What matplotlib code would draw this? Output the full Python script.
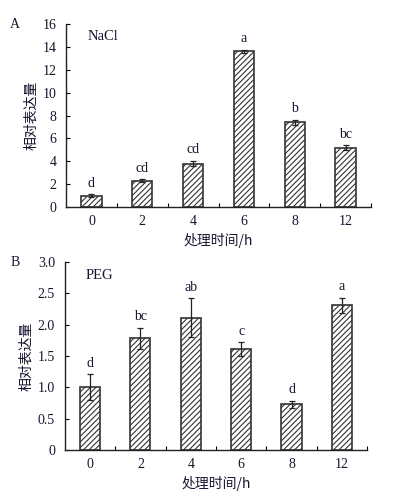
import matplotlib
matplotlib.use("Agg")
import matplotlib.pyplot as plt
import numpy as np

plt.rcParams['font.family'] = ['Liberation Serif', 'Noto Sans CJK SC', 'DejaVu Sans']
plt.rcParams['hatch.linewidth'] = 0.8
plt.rcParams['hatch.color'] = '#222222'

categories = ['0', '2', '4', '6', '8', '12']
nacl_vals = [1.0, 2.3, 3.8, 13.6, 7.4, 5.2]
nacl_err = [0.12, 0.12, 0.22, 0.15, 0.22, 0.18]
nacl_letters = ['d', 'cd', 'cd', 'a', 'b', 'bc']
peg_vals = [1.0, 1.78, 2.11, 1.61, 0.73, 2.31]
peg_err = [0.21, 0.17, 0.31, 0.11, 0.055, 0.12]
peg_letters = ['d', 'bc', 'ab', 'c', 'd', 'a']

txt_color = '#15152e'

fig = plt.figure(figsize=(3.93, 4.95), dpi=100)
axA = fig.add_axes([0.168, 0.5818, 0.776, 0.3697])
axB = fig.add_axes([0.165, 0.0909, 0.769, 0.3798])

def draw(ax, vals, errs, letters, ymax, yticks, yticklabels, title, panel, letter_off):
    x = np.arange(len(categories)) + 0.5
    ax.bar(x, vals, width=0.4, color='white', edgecolor='#333333', linewidth=1.2,
           hatch='//////', zorder=2)
    ax.errorbar(x, vals, yerr=errs, fmt='none', ecolor='#222222', elinewidth=0.9,
                capsize=2.5, capthick=0.9, zorder=3)
    for xi, v, e, l in zip(x, vals, errs, letters):
        ax.text(xi, v + e + letter_off, l, ha='center', va='bottom', fontsize=10,
                color=txt_color)
    ax.set_xlim(0, len(categories))
    ax.set_ylim(0, ymax)
    ax.set_yticks(yticks)
    ax.set_yticklabels(yticklabels, fontsize=10, color=txt_color)
    ax.set_xticks(np.arange(1, len(categories) + 1))
    ax.set_xticklabels([])
    ax.set_xticks(x, minor=True)
    ax.set_xticklabels(categories, minor=True, fontsize=10, color=txt_color)
    ax.tick_params(axis='x', which='minor', length=0, pad=6)
    ax.tick_params(axis='x', which='major', direction='in', length=3, width=0.8)
    ax.tick_params(axis='y', direction='in', length=3, width=0.8, pad=7)
    for s in ['top', 'right']:
        ax.spines[s].set_visible(False)
    for s in ['left', 'bottom']:
        ax.spines[s].set_linewidth(1.0)
        ax.spines[s].set_color('#222222')
    ax.set_xlabel('处理时间/h', fontsize=10, color=txt_color, labelpad=3,
                  family=['Noto Sans CJK SC'])
    ax.set_ylabel('相对表达量', fontsize=10, color=txt_color, labelpad=3,
                  family=['Noto Sans CJK SC'])
    ax.text(0.07, 0.965, title, transform=ax.transAxes, fontsize=10.5, color=txt_color,
            ha='left', va='top')
    ax.text(-0.15, 1.0, panel, transform=ax.transAxes, fontsize=10, color=txt_color,
            ha='right', va='center')

draw(axA, nacl_vals, nacl_err, nacl_letters, 16, np.arange(0, 17, 2),
     [str(v) for v in range(0, 17, 2)], 'NaCl', 'A', 0.4)
draw(axB, peg_vals, peg_err, peg_letters, 3.0, np.arange(0, 3.01, 0.5),
     ['0', '0.5', '1.0', '1.5', '2.0', '2.5', '3.0'], 'PEG', 'B', 0.07)

fig.savefig('out.png', dpi=100)
